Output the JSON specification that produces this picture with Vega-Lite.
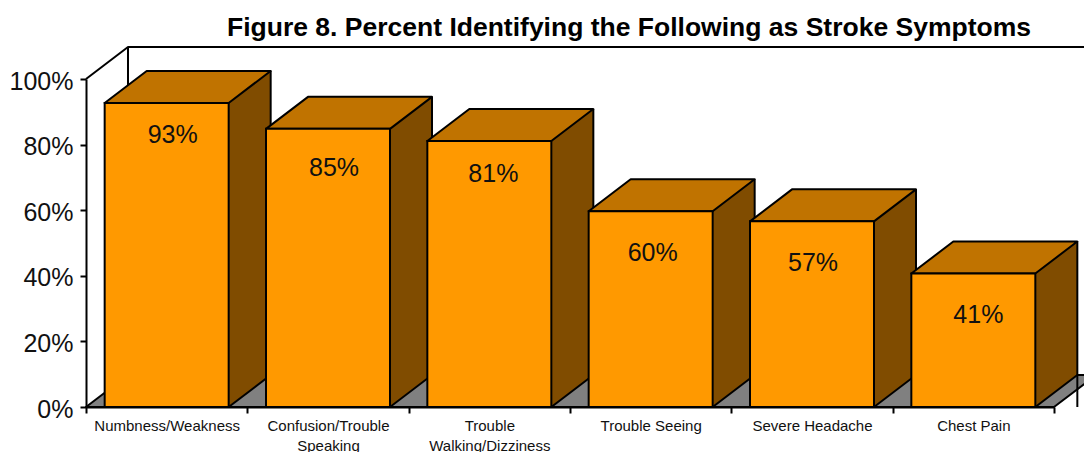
{
"$schema":"https://vega.github.io/schema/vega-lite/v6.json",
"autosize":"none","width":968,"height":328,
"padding":{"left":86,"top":79,"right":30,"bottom":45},
"background":"white",
"title":{"text":"Figure 8. Percent Identifying the Following as Stroke Symptoms","anchor":"middle","dx":59,"offset":5,"fontSize":26.5,"fontWeight":"bold","font":"Liberation Sans","color":"#000000"},
"config":{"view":{"stroke":null},"axis":{"grid":false}},
"data":{"values":[
{"category":"Numbness/Weakness","value":0.927},
{"category":"Confusion/Trouble Speaking","value":0.848},
{"category":"Trouble Walking/Dizziness","value":0.811},
{"category":"Trouble Seeing","value":0.597},
{"category":"Severe Headache","value":0.566},
{"category":"Chest Pain","value":0.407}
]},
"encoding":{
"x":{"field":"category","type":"nominal","sort":null,"title":null,
"scale":{"paddingInner":0,"paddingOuter":0},
"axis":{"zindex":1,"labelAngle":0,"labelLimit":0,"domainColor":"#000000","domainWidth":2,"tickColor":"#000000","tickWidth":2,"tickSize":6,"tickBand":"extent","labelFont":"Liberation Sans","labelFontSize":15,"labelColor":"#111111","labelPadding":5,"labelLineHeight":20,"labelBaseline":"top",
"labelExpr":"datum.label == 'Confusion/Trouble Speaking' ? ['Confusion/Trouble','Speaking'] : datum.label == 'Trouble Walking/Dizziness' ? ['Trouble','Walking/Dizziness'] : datum.label"}},
"y":{"field":"value","type":"quantitative","title":null,
"scale":{"domain":[0,1]},
"axis":{"zindex":1,"values":[0,0.2,0.4,0.6,0.8,1],"format":".0%","domainColor":"#000000","domainWidth":2,"tickColor":"#000000","tickWidth":2,"tickSize":6,"labelFont":"Liberation Sans","labelFontSize":25,"labelColor":"#111111","labelPadding":7,"labelOffset":2}}
},
"layer":[
{"data":{"values":[{"category":"Numbness/Weakness","value":0}]},
 "mark":{"type":"point","shape":"M0,-328L42,-360L1040,-360M42,-360L42,-32","filled":false,"stroke":"#000000","strokeWidth":2,"strokeJoin":"round","opacity":1,"size":4,"xOffset":-80.67}},
{"data":{"values":[{"category":"Numbness/Weakness","value":0}]},
 "mark":{"type":"point","shape":"M0,0L42,-32L1010,-32L968,0Z","filled":true,"fill":"#808080","stroke":"#000000","strokeWidth":2,"strokeJoin":"round","opacity":1,"size":4,"xOffset":-80.67}},
{"mark":{"type":"bar","width":42,"xOffset":83,"fill":"#804c00","stroke":null},
 "encoding":{"y2":{"datum":0.0975}}},
{"mark":{"type":"point","shape":"M62,0L104,-32L104,2L62,2Z","filled":true,"fill":"#804c00","strokeWidth":0,"opacity":1,"size":4}},
{"mark":{"type":"point","shape":"M62,-34L104,-34L104,-32L62,0Z","filled":true,"fill":"#804c00","strokeWidth":0,"opacity":1,"size":4},
 "encoding":{"y":{"datum":0}}},
{"mark":{"type":"point","shape":"M62,0L104,-32","filled":false,"stroke":"#000000","strokeWidth":2,"opacity":1,"size":4},
 "encoding":{"y":{"datum":0}}},
{"mark":{"type":"rule","xOffset":104,"yOffset":-32,"stroke":"#000000","strokeWidth":2},
 "encoding":{"y2":{"datum":0}}},
{"mark":{"type":"point","shape":"M-62,0L62,0L104,-32L-20,-32Z","filled":true,"fill":"#c07300","stroke":"#000000","strokeWidth":2,"strokeJoin":"round","opacity":1,"size":4}},
{"mark":{"type":"bar","width":124,"fill":"#ff9900","stroke":"#000000","strokeWidth":2}},
{"transform":[{"filter":{"field":"category","equal":"Numbness/Weakness"}}],
 "mark":{"type":"text","font":"Liberation Sans","fontSize":25,"color":"#111111","baseline":"middle","align":"center","dx":6,"dy":32},
 "encoding":{"text":{"field":"value","type":"quantitative","format":".0%"}}},
{"transform":[{"filter":{"field":"category","equal":"Confusion/Trouble Speaking"}}],
 "mark":{"type":"text","font":"Liberation Sans","fontSize":25,"color":"#111111","baseline":"middle","align":"center","dx":6,"dy":39},
 "encoding":{"text":{"field":"value","type":"quantitative","format":".0%"}}},
{"transform":[{"filter":{"field":"category","equal":"Trouble Walking/Dizziness"}}],
 "mark":{"type":"text","font":"Liberation Sans","fontSize":25,"color":"#111111","baseline":"middle","align":"center","dx":4,"dy":33},
 "encoding":{"text":{"field":"value","type":"quantitative","format":".0%"}}},
{"transform":[{"filter":{"field":"category","equal":"Trouble Seeing"}}],
 "mark":{"type":"text","font":"Liberation Sans","fontSize":25,"color":"#111111","baseline":"middle","align":"center","dx":2,"dy":42},
 "encoding":{"text":{"field":"value","type":"quantitative","format":".0%"}}},
{"transform":[{"filter":{"field":"category","equal":"Severe Headache"}}],
 "mark":{"type":"text","font":"Liberation Sans","fontSize":25,"color":"#111111","baseline":"middle","align":"center","dx":1,"dy":42},
 "encoding":{"text":{"field":"value","type":"quantitative","format":".0%"}}},
{"transform":[{"filter":{"field":"category","equal":"Chest Pain"}}],
 "mark":{"type":"text","font":"Liberation Sans","fontSize":25,"color":"#111111","baseline":"middle","align":"center","dx":5,"dy":41},
 "encoding":{"text":{"field":"value","type":"quantitative","format":".0%"}}}
]
}
